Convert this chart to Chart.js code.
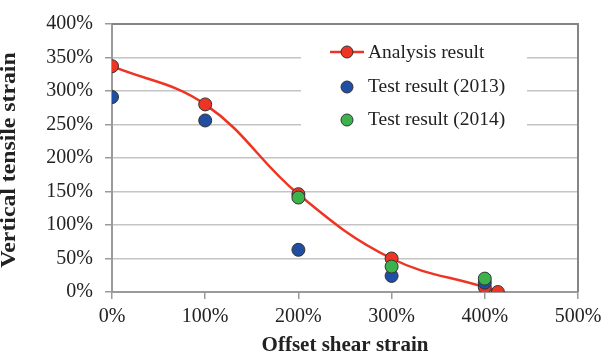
<!DOCTYPE html>
<html>
<head>
<meta charset="utf-8">
<script src="https://cdn.jsdelivr.net/npm/chart.js@4"></script>
<style>
html,body{margin:0;padding:0;background:#fff;}
#wrap{width:610px;height:358px;position:relative;}
</style>
</head>
<body>
<div id="wrap"><canvas id="c" width="610" height="358"></canvas></div>
<script>
// Data (percent values)
const analysisX = [0, 100, 200, 300, 400, 414];
const analysisY = [337, 280, 146, 50, 7, 0];
const test2013X = [0, 100, 200, 300, 400];
const test2013Y = [291, 256, 63, 24, 14];
const test2014X = [200, 300, 400];
const test2014Y = [141, 38, 20];
const xTicks = [0, 100, 200, 300, 400, 500];
const yTicks = [0, 50, 100, 150, 200, 250, 300, 350, 400];
const seriesNames = ['Analysis result', 'Test result (2013)', 'Test result (2014)'];
const xTitle = 'Offset shear strain';
const yTitle = 'Vertical tensile strain';

const RED = '#ee3524', BLUE = '#1f4ea3', GREEN = '#3bb34a';
const FONT = '"Liberation Serif", "Times New Roman", serif';

function pts(xs, ys){ return xs.map((x,i)=>({x:x, y:ys[i]})); }

const frame = {
  id:'frame',
  afterDraw(chart){
    const {ctx} = chart;
    ctx.save();
    ctx.translate(10, 160);
    ctx.rotate(-Math.PI/2);
    ctx.scale(1.13, 1);
    ctx.font = 'bold 21px ' + FONT;
    ctx.fillStyle = '#222';
    ctx.textAlign = 'center';
    ctx.textBaseline = 'middle';
    ctx.fillText(yTitle, 0, 0);
    ctx.restore();
  },
  beforeDatasetsDraw(chart){
    const {ctx, chartArea:a} = chart;
    ctx.save();
    ctx.strokeStyle = '#858585';
    ctx.lineWidth = 2;
    ctx.beginPath();
    ctx.moveTo(a.left, a.top); ctx.lineTo(a.right, a.top); ctx.lineTo(a.right, a.bottom);
    ctx.stroke();
    // legend background
    ctx.fillStyle = '#fff';
    ctx.fillRect(301, 32, 226, 104);
    const rows = [52, 86, 119];
    const cols = [RED, BLUE, GREEN];
    ctx.font = '19.5px ' + FONT;
    ctx.textBaseline = 'middle';
    rows.forEach((y,i)=>{
      if(i===0){
        ctx.strokeStyle = RED; ctx.lineWidth = 2.5;
        ctx.beginPath(); ctx.moveTo(330, y); ctx.lineTo(364, y); ctx.stroke();
        ctx.beginPath(); ctx.arc(347, y, 6, 0, Math.PI*2);
      } else {
        ctx.beginPath(); ctx.arc(347, y+1, 6, 0, Math.PI*2);
      }
      ctx.fillStyle = cols[i]; ctx.fill();
      ctx.strokeStyle = '#333'; ctx.lineWidth = 1; ctx.stroke();
      ctx.fillStyle = '#222';
      ctx.fillText(seriesNames[i], 368, y+1);
    });
    ctx.restore();
  }
};

new Chart(document.getElementById('c'), {
  type: 'scatter',
  data: {
    datasets: [
      { label: seriesNames[2], data: pts(test2014X, test2014Y), order: 0,
        backgroundColor: GREEN, borderColor: '#333', borderWidth: 1, pointRadius: 6.5, showLine:false },
      { label: seriesNames[1], data: pts(test2013X, test2013Y), order: 1,
        backgroundColor: BLUE, borderColor: '#333', borderWidth: 1, pointRadius: 6.5, showLine:false },
      { label: seriesNames[0], data: pts(analysisX, analysisY), order: 2,
        showLine: true, tension: 0.4,
        borderColor: RED, borderWidth: 2.5, backgroundColor: RED,
        pointBackgroundColor: RED, pointBorderColor: '#333', pointBorderWidth: 1, pointRadius: 6.5 }
    ]
  },
  options: {
    responsive: false,
    animation: false,
    devicePixelRatio: 1,
    layout: { padding: { left: 0, right: 32, top: 10, bottom: 0 } },
    plugins: { legend: { display: false }, tooltip: { enabled: false } },
    scales: {
      x: {
        type: 'linear', min: 0, max: 500,
        afterBuildTicks(s){ s.ticks = xTicks.map(v=>({value:v})); },
        afterFit(s){ s.height = 66; },
        ticks: { callback: v => v + '%', color: '#222', padding: 6, maxRotation: 0,
          font: { family: FONT, size: 20 } },
        grid: { drawOnChartArea: false, drawTicks: true, tickLength: 7, color: '#9a9a9a', lineWidth: 1.5 },
        border: { display: true, color: '#9a9a9a', width: 2 },
        title: { display: true, text: xTitle, color: '#222', padding: { top: 2, bottom: 0 },
          font: { family: FONT, size: 21, weight: 'bold' } }
      },
      y: {
        type: 'linear', min: 0, max: 400,
        afterBuildTicks(s){ s.ticks = yTicks.map(v=>({value:v})); },
        afterFit(s){ s.width = 112; },
        ticks: { callback: v => v + '%', color: '#222', padding: 12,
          font: { family: FONT, size: 20 } },
        grid: { color: '#c4c4c4', lineWidth: 1.5, tickLength: 7, tickColor: '#9a9a9a' },
        border: { display: true, color: '#9a9a9a', width: 2 },
        title: { display: false, text: yTitle }
      }
    }
  },
  plugins: [frame]
});
</script>
</body>
</html>
